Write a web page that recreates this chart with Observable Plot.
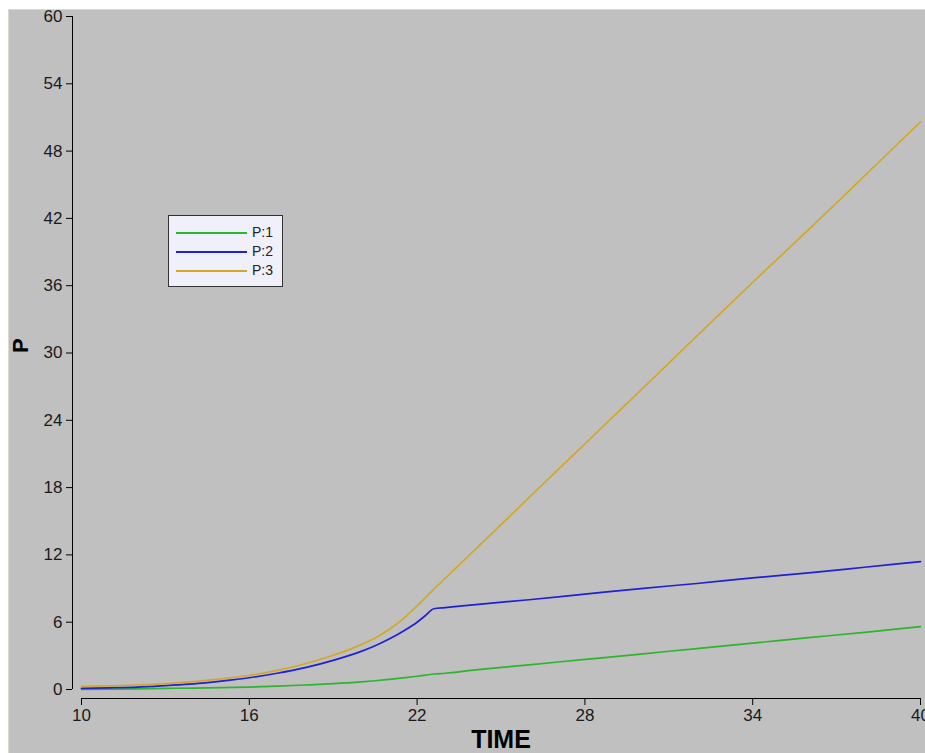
<!DOCTYPE html>
<html>
<head>
<meta charset="utf-8">
<script src="https://cdn.jsdelivr.net/npm/d3@7"></script>
<script src="https://cdn.jsdelivr.net/npm/@observablehq/plot@0.6"></script>
<style>
  html, body { margin: 0; padding: 0; background: #ffffff; }
  #wrap {
    position: absolute; left: 8px; top: 9px;
    border-left: 1px solid #dcd9cf; border-top: 1px solid #dcd9cf;
  }
  #wrap svg { display: block; background: #c0c0c0; overflow: visible; }
  #legend {
    position: absolute; left: 159px; top: 205px;
    width: 113px; height: 70px;
    background: #f0f0fb; border: 1px solid #333;
    font: 14px "Liberation Sans", Arial, sans-serif; color: #222;
  }
  #legend .row { position: absolute; left: 0; height: 19px; }
  #legend .sw { position: absolute; left: 7px; width: 71px; height: 0; border-top: 2px solid; }
  #legend .lb { position: absolute; left: 83px; top: -9px; line-height: 18px; }
</style>
</head>
<body>
<div id="wrap"></div>
<script>
// Simulation output: P for three cases against TIME
const time = [10, 11, 12, 13, 14, 15, 16, 17, 18, 19, 20, 20.5, 21, 21.5, 22, 22.3, 22.6, 23, 24, 26, 28, 30, 32, 34, 36, 38, 40];
const p1 = [0.02, 0.03, 0.05, 0.1, 0.13, 0.17, 0.22, 0.3, 0.4, 0.52, 0.68, 0.78, 0.9, 1.03, 1.18, 1.28, 1.38, 1.45, 1.72, 2.2, 2.68, 3.16, 3.65, 4.13, 4.62, 5.1, 5.6];
const p2 = [0.1, 0.15, 0.22, 0.35, 0.5, 0.75, 1.05, 1.45, 1.95, 2.6, 3.4, 3.9, 4.5, 5.2, 6.0, 6.6, 7.2, 7.3, 7.55, 8.0, 8.5, 9.0, 9.45, 9.95, 10.4, 10.9, 11.4];
const p3 = [0.28, 0.32, 0.4, 0.52, 0.7, 0.95, 1.25, 1.7, 2.3, 3.05, 4.0, 4.6, 5.35, 6.3, 7.45, 8.2, 8.95, 9.9, 12.3, 17.1, 21.9, 26.7, 31.5, 36.3, 41.0, 45.8, 50.6];

const seriesNames = ["P:1", "P:2", "P:3"];
const seriesColors = ["#2fb42f", "#2020d4", "#d2a82a"];
const seriesValues = [p1, p2, p3];

const xTicks = [10, 16, 22, 28, 34, 40];
const yTicks = [0, 6, 12, 18, 24, 30, 36, 42, 48, 54, 60];

const rows = seriesNames.flatMap((name, i) =>
  time.map((t, j) => ({series: name, time: t, value: seriesValues[i][j]}))
);

const font = '"Liberation Sans", Arial, sans-serif';

const chart = Plot.plot({
  width: 916,
  height: 743,
  marginLeft: 72,
  marginRight: 5,
  marginTop: 6,
  marginBottom: 64,
  style: {fontFamily: font, fontSize: "17px", color: "#1a1a1a", background: "#c0c0c0", overflow: "visible"},
  x: {domain: [10, 40], label: null},
  y: {domain: [0, 60], label: null},
  color: {domain: seriesNames, range: seriesColors},
  marks: [
    // axes drawn a few pixels away from the data area
    Plot.ruleX([10], {dx: -9, stroke: "#000"}),
    Plot.ruleY([0], {dy: 9, stroke: "#000"}),
    Plot.axisY({ticks: yTicks, dx: -9, tickSize: 6, tickPadding: 4, label: null, stroke: "#000"}),
    Plot.axisX({ticks: xTicks, dy: 9, tickSize: 7, tickPadding: 3, label: null, stroke: "#000"}),
    Plot.line(rows, {x: "time", y: "value", z: "series", stroke: "series", strokeWidth: 1.7, curve: "monotone-x"}),
    Plot.text(["TIME"], {frameAnchor: "bottom", dy: 58, fontSize: 25, fontWeight: "bold", fill: "#000"}),
    Plot.text(["P"], {frameAnchor: "left", dx: -61, rotate: -90, fontSize: 22, fontWeight: "bold", fill: "#000"})
  ]
});

const wrap = document.getElementById("wrap");
wrap.appendChild(chart);

// legend box
const legend = document.createElement("div");
legend.id = "legend";
seriesNames.forEach((name, i) => {
  const row = document.createElement("div");
  row.className = "row";
  row.style.top = (16 + i * 19) + "px";
  row.innerHTML = `<div class="sw" style="border-color:${seriesColors[i]}"></div><div class="lb">${name}</div>`;
  legend.appendChild(row);
});
wrap.appendChild(legend);
</script>
</body>
</html>
